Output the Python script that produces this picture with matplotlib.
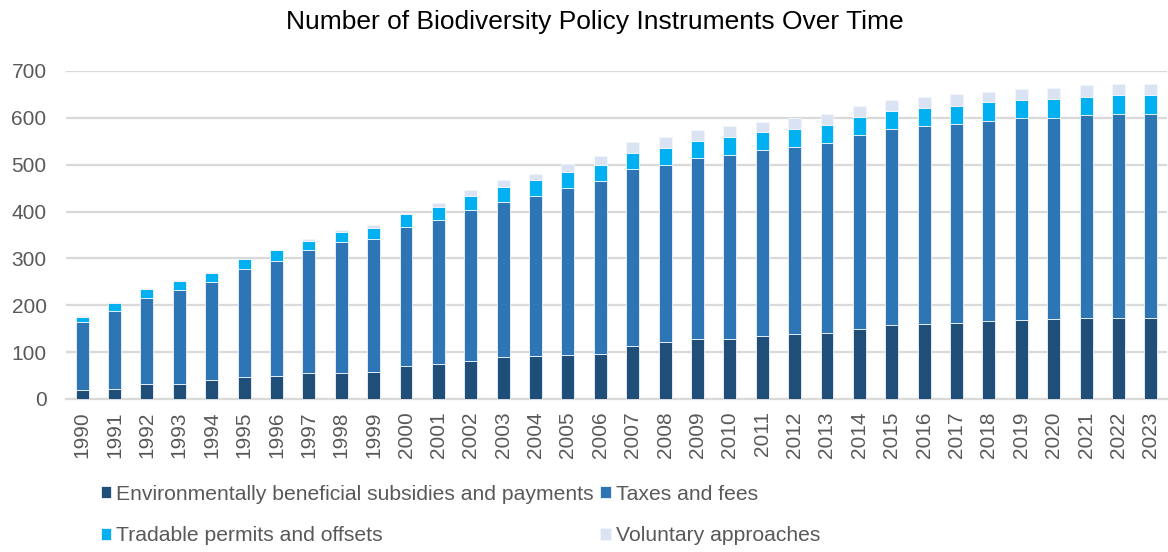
import numpy as np
import matplotlib.pyplot as plt

plt.rcParams['font.family'] = ['Liberation Sans', 'DejaVu Sans']

# --- data ---
years = [str(y) for y in range(1990, 2024)]
subsidies = [20, 21, 31, 31, 40, 47, 49, 56, 56, 58, 70, 75, 82, 89, 92, 94, 96,
             113, 121, 127, 128, 135, 139, 141, 150, 158, 160, 162, 167, 169, 170,
             172, 172, 172]
taxes = [144, 167, 185, 202, 209, 230, 245, 261, 278, 283, 298, 307, 322, 332,
         341, 356, 369, 378, 379, 387, 393, 396, 399, 405, 413, 418, 422, 425,
         426, 430, 430, 434, 436, 436]
tradable = [12, 16, 19, 19, 20, 21, 23, 21, 22, 23, 26, 27, 29, 31, 34, 34, 34,
            35, 35, 37, 38, 38, 39, 38, 38, 39, 38, 39, 40, 39, 40, 39, 40, 40]
voluntary = [1, 2, 1, 1, 2, 1, 1, 3, 5, 8, 4, 10, 13, 15, 13, 17, 19, 22, 24,
             23, 24, 23, 22, 24, 24, 23, 24, 24, 22, 23, 24, 25, 24, 24]

series_names = ['Environmentally beneficial subsidies and payments',
                'Taxes and fees',
                'Tradable permits and offsets',
                'Voluntary approaches']
colors = ['#1F4E79', '#2E75B6', '#00B0F0', '#DAE3F3']

fig = plt.figure(figsize=(11.68, 5.52), dpi=100)
ax = fig.add_axes([66 / 1168, 153 / 552, 1101 / 1168, 328 / 552])

x = np.arange(len(years))
bottom = np.zeros(len(years))
bars = []
for vals, name, col in zip([subsidies, taxes, tradable, voluntary], series_names, colors):
    b = ax.bar(x, vals, width=0.4, bottom=bottom, color=col, label=name,
               edgecolor='#F2F6FB', linewidth=0.6, zorder=3)
    bars.append(b)
    bottom += np.array(vals)

ax.set_xlim(-0.5, len(years) - 0.5)
ax.set_ylim(0, 700)
ax.set_yticks(range(0, 701, 100))
ax.set_xticks(x)
ax.set_xticklabels(years, rotation=90)
ax.grid(axis='y', color='#D9D9D9', linewidth=1.6, zorder=0)
for s in ['top', 'right', 'left']:
    ax.spines[s].set_visible(False)
ax.spines['bottom'].set_color('#D9D9D9')
ax.spines['bottom'].set_linewidth(1.6)
ax.tick_params(axis='both', length=0, labelsize=15, colors='#595959')
ax.tick_params(axis='y', pad=14)
ax.tick_params(axis='x', pad=9)

fig.text(595 / 1168, 1 - 22 / 552, 'Number of Biodiversity Policy Instruments Over Time',
         ha='center', va='center', fontsize=19, color='black')

# order so that rows read: subsidies, taxes / tradable, voluntary
order = [0, 2, 1, 3]
fig.legend([bars[i] for i in order], [series_names[i] for i in order],
           loc='center left', bbox_to_anchor=(90 / 1168, 1 - 515 / 552),
           ncol=2, frameon=False, fontsize=15.2, labelcolor='#595959',
           handlelength=0.5, handleheight=0.5, handletextpad=0.25,
           columnspacing=0.3, labelspacing=1.05, borderpad=0)

fig.savefig('out.png', dpi=100)
